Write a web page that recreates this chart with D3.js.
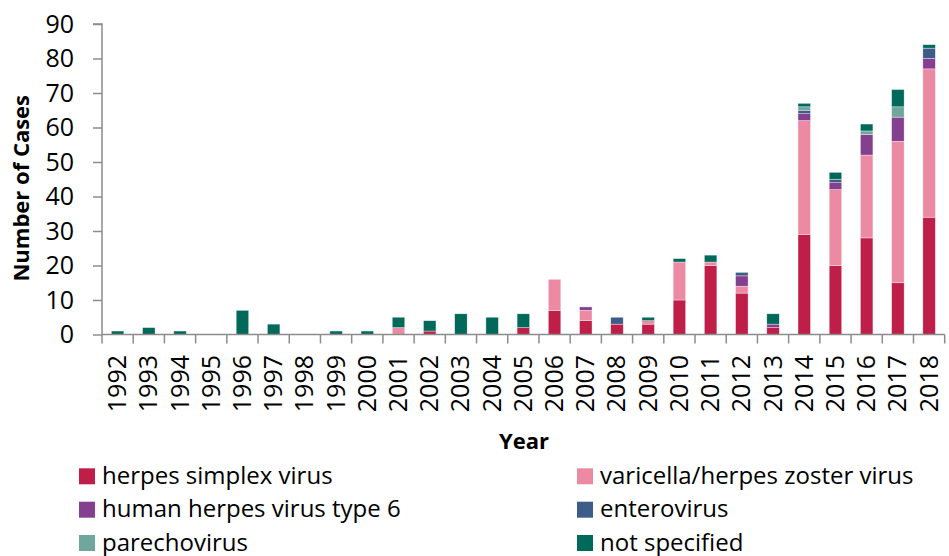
<!DOCTYPE html>
<html>
<head>
<meta charset="utf-8">
<script src="https://cdn.jsdelivr.net/npm/d3@7"></script>
<style>
  html, body { margin: 0; padding: 0; background: #fff; }
  svg { display: block; font-family: "Open Sans", sans-serif; }
</style>
</head>
<body>
<svg id="chart" width="949" height="556"></svg>
<script>
const years = ["1992","1993","1994","1995","1996","1997","1998","1999","2000","2001","2002","2003","2004","2005","2006","2007","2008","2009","2010","2011","2012","2013","2014","2015","2016","2017","2018"];
const seriesNames = ["herpes simplex virus","varicella/herpes zoster virus","human herpes virus type 6","enterovirus","parechovirus","not specified"];
const herpesSimplex = [0,0,0,0,0,0,0,0,0,0,1,0,0,2,7,4,3,3,10,20,12,2,29,20,28,15,34];
const varicellaZoster = [0,0,0,0,0,0,0,0,0,2,0,0,0,0,9,3,0,1,11,1,2,0,33,22,24,41,43];
const hhv6 = [0,0,0,0,0,0,0,0,0,0,0,0,0,0,0,1,0,0,0,0,3,1,2,2,6,7,3];
const enterovirus = [0,0,0,0,0,0,0,0,0,0,0,0,0,0,0,0,2,0,0,0,1,0,1,1,0,0,3];
const parechovirus = [0,0,0,0,0,0,0,0,0,0,0,0,0,0,0,0,0,0,0,0,0,0,1,0,1,3,0];
const notSpecified = [1,2,1,0,7,3,0,1,1,3,3,6,5,4,0,0,0,1,1,2,0,3,1,2,2,5,1];
const yTicks = [0,10,20,30,40,50,60,70,80,90];
const colors = ["#BE1E48","#EB8AA2","#843F8F","#3E5C87","#6FA79C","#00695A"];

const seriesValues = [herpesSimplex, varicellaZoster, hhv6, enterovirus, parechovirus, notSpecified];
const keys = d3.range(seriesNames.length).map(String);
const table = years.map((y, i) => {
  const row = { year: y };
  seriesValues.forEach((arr, k) => row[k] = arr[i]);
  return row;
});

const svg = d3.select("#chart");
const x0 = 102, x1 = 944.7, yTop = 24, yBot = 334.5;
const axisColor = "#8c8c8c";

const x = d3.scaleBand().domain(years).range([x0, x1]).paddingInner(0.6).paddingOuter(0.3);
const y = d3.scaleLinear().domain([0, 90]).range([yBot, yTop]);

const stack = d3.stack().keys(keys);
const layers = stack(table);

svg.append("g").selectAll("g").data(layers).join("g")
  .attr("fill", (d, i) => colors[i])
  .selectAll("rect").data(d => d.filter(p => p[1] > p[0])).join("rect")
  .attr("x", d => x(d.data.year))
  .attr("width", x.bandwidth())
  .attr("y", d => y(d[1]))
  .attr("height", d => y(d[0]) - y(d[1]))
  .attr("stroke", "rgba(255,255,255,0.6)")
  .attr("stroke-width", 0.6);

// y axis
const yAxis = d3.axisLeft(y).tickValues(yTicks).tickSize(9).tickPadding(19);
const gy = svg.append("g").attr("transform", `translate(${x0},0)`).call(yAxis);
gy.select(".domain").attr("stroke", axisColor).attr("stroke-width", 1.5).attr("d", `M-9,${y(90)}H0V${y(0)}`);
gy.selectAll(".tick line").attr("stroke", axisColor).attr("stroke-width", 1.5);
gy.selectAll(".tick text").attr("fill", "#000").style("font-size", "25px").style("font-family", "'Open Sans', sans-serif");

// x axis: line + boundary ticks
const step = x.step();
const boundaries = d3.range(years.length + 1).map(i => x0 + i * step);
const gx = svg.append("g");
gx.append("line").attr("x1", x0).attr("x2", x1).attr("y1", yBot).attr("y2", yBot)
  .attr("stroke", axisColor).attr("stroke-width", 1.5);
gx.selectAll("line.tk").data(boundaries).join("line").attr("class", "tk")
  .attr("x1", d => d).attr("x2", d => d).attr("y1", yBot).attr("y2", yBot + 9)
  .attr("stroke", axisColor).attr("stroke-width", 1.5);
gx.selectAll("text").data(years).join("text")
  .attr("transform", d => `translate(${x(d) + x.bandwidth() / 2 + 8.5},355) rotate(-90)`)
  .attr("text-anchor", "end")
  .style("font-size", "25px")
  .attr("fill", "#000")
  .text(d => d);

// axis titles
svg.append("text")
  .attr("transform", `translate(29,${(yTop + yBot) / 2 + 9}) rotate(-90)`)
  .attr("text-anchor", "middle")
  .style("font-size", "22px").style("font-weight", "bold")
  .text("Number of Cases");
svg.append("text")
  .attr("x", 524).attr("y", 449)
  .attr("text-anchor", "middle")
  .style("font-size", "22px").style("font-weight", "bold")
  .text("Year");

// legend
const legendCols = [79, 577];
const legendRows = [468.3, 501.7, 535];
const lg = svg.append("g").selectAll("g").data(seriesNames).join("g")
  .attr("transform", (d, i) => `translate(${legendCols[i % 2]},${legendRows[Math.floor(i / 2)]})`);
lg.append("rect").attr("width", 16).attr("height", 16).attr("fill", (d, i) => colors[i]);
lg.append("text").attr("x", 23).attr("y", 15.5)
  .style("font-size", "24px").attr("fill", "#000")
  .text(d => d);
</script>
</body>
</html>
